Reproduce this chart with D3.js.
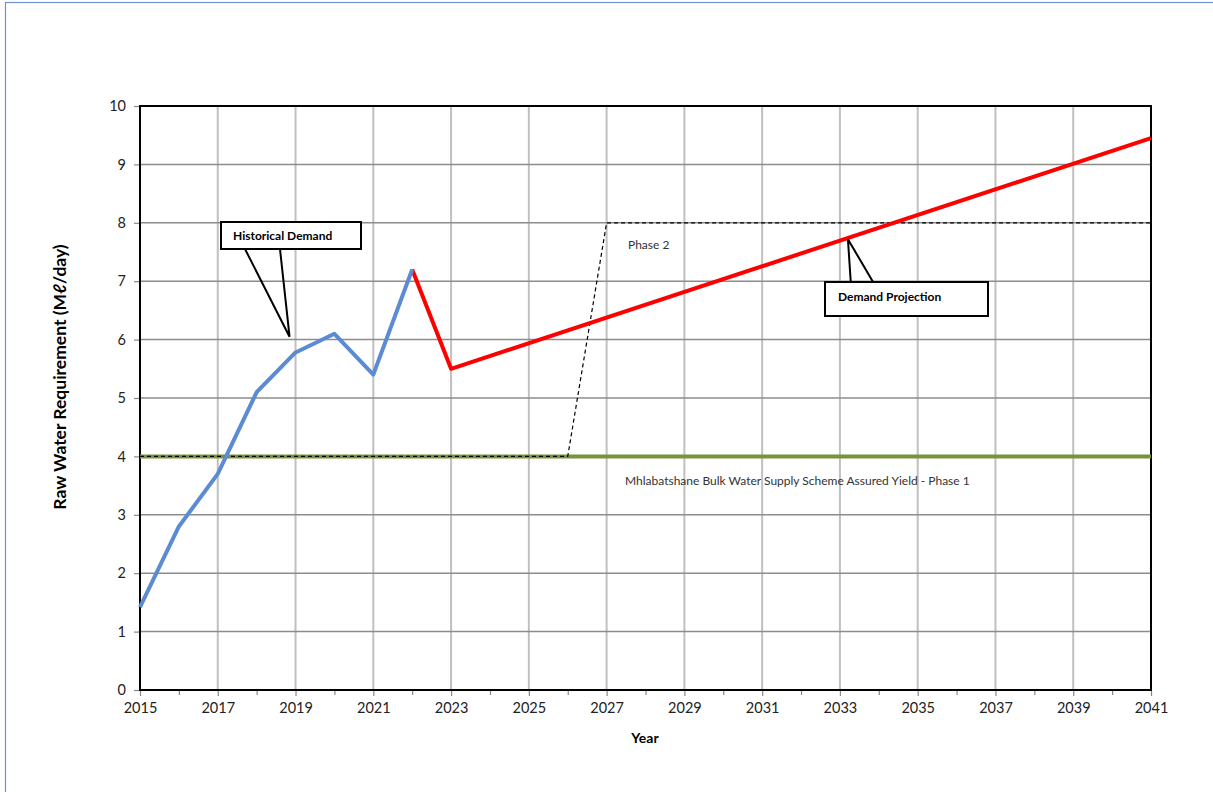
<!DOCTYPE html>
<html><head><meta charset="utf-8">
<script src="https://cdn.jsdelivr.net/npm/d3@7"></script>
<style>
html,body{margin:0;padding:0;background:#fff;}
svg{display:block;font-family:Lato,"Liberation Sans",sans-serif;}
</style></head>
<body><svg id="c" width="1213" height="792"></svg>
<script>
// Data
const histYears = [2015,2016,2017,2018,2019,2020,2021,2022];
const histValues = [1.42,2.8,3.7,5.1,5.78,6.1,5.4,7.2];
const projYears = [2022,2023,2041];
const projValues = [7.2,5.5,9.45];
const phase1Years = [2015,2041];
const phase1Values = [4,4];
const capacityYears = [2015,2026,2027,2041];
const capacityValues = [4,4,8,8];
const xTickYears = [2015,2017,2019,2021,2023,2025,2027,2029,2031,2033,2035,2037,2039,2041];
const xMinorYears = [2016,2018,2020,2022,2024,2026,2028,2030,2032,2034,2036,2038,2040];
const yTicks = [0,1,2,3,4,5,6,7,8,9,10];

const svg = d3.select("#c");
const m = {l:140, t:106, r:1151, b:690};
const x = d3.scaleLinear().domain([2015,2041]).range([m.l, m.r]);
const y = d3.scaleLinear().domain([0,10]).range([m.b, m.t]);

// outer frame
svg.append("rect").attr("x",5.5).attr("y",2.5).attr("width",1220).attr("height",800)
  .attr("fill","none").attr("stroke","#6f95cf").attr("stroke-width",1.2);

// grid
svg.append("g").selectAll("line").data(xTickYears.slice(1,-1)).join("line")
  .attr("x1",d=>x(d)).attr("x2",d=>x(d)).attr("y1",m.t).attr("y2",m.b)
  .attr("stroke","#c0c0c0").attr("stroke-width",2);
svg.append("g").selectAll("line").data(yTicks.slice(1,-1)).join("line")
  .attr("x1",m.l).attr("x2",m.r).attr("y1",d=>y(d)).attr("y2",d=>y(d))
  .attr("stroke","#8c8c8c").attr("stroke-width",1.5);

// axes
const fmt = d3.format("d");
const yAxis = svg.append("g").attr("transform",`translate(${m.l},0)`)
  .call(d3.axisLeft(y).tickValues(yTicks).tickSize(6).tickPadding(8).tickFormat(fmt));
const xAxis = svg.append("g").attr("transform",`translate(0,${m.b})`)
  .call(d3.axisBottom(x).tickValues(xTickYears).tickSize(6).tickPadding(7).tickFormat(fmt));
const xMinor = svg.append("g").attr("transform",`translate(0,${m.b})`)
  .call(d3.axisBottom(x).tickValues(xMinorYears).tickSize(5).tickFormat(""));
xMinor.select(".domain").remove();
[yAxis,xAxis,xMinor].forEach(g=>{
  g.selectAll(".tick line").attr("stroke","#888").attr("stroke-width",1.2);
  g.selectAll("text").attr("fill","#222").style("font-size","14.5px").style("font-family","Lato,'Liberation Sans',sans-serif");
  g.select(".domain").attr("stroke","none");
});

// plot box
svg.append("rect").attr("x",m.l).attr("y",m.t).attr("width",m.r-m.l).attr("height",m.b-m.t)
  .attr("fill","none").attr("stroke","#000").attr("stroke-width",2);

const line = d3.line().x(d=>x(d[0])).y(d=>y(d[1]));
const zip = (a,b)=>a.map((v,i)=>[v,b[i]]);

// phase 1 green
svg.append("path").datum(zip(phase1Years,phase1Values)).attr("d",line)
  .attr("fill","none").attr("stroke","#77933c").attr("stroke-width",4);
// capacity dashed
svg.append("path").datum(zip(capacityYears,capacityValues)).attr("d",line)
  .attr("fill","none").attr("stroke","#000").attr("stroke-width",1.2).attr("stroke-dasharray","4,3");
// projection red
svg.append("path").datum(zip(projYears,projValues)).attr("d",line)
  .attr("fill","none").attr("stroke","#ff0000").attr("stroke-width",4).attr("stroke-linejoin","round");
// history blue
svg.append("path").datum(zip(histYears,histValues)).attr("d",line)
  .attr("fill","none").attr("stroke","#5b8bd3").attr("stroke-width",4).attr("stroke-linejoin","round");

// labels
svg.append("text").attr("x",628).attr("y",249).attr("fill","#333").style("font-size","12px").text("Phase 2");
svg.append("text").attr("x",625).attr("y",485).attr("fill","#333").style("font-size","12px")
  .text("Mhlabatshane Bulk Water Supply Scheme Assured Yield - Phase 1");

// callouts
function callout(bx,by,bw,bh,p1,p2,tip,label,tx,ty){
  const g = svg.append("g");
  g.append("path").attr("d",`M${p1},${by+bh} L${tip[0]},${tip[1]} L${p2},${by+bh}`)
    .attr("fill","none").attr("stroke","#000").attr("stroke-width",2);
  g.append("rect").attr("x",bx).attr("y",by).attr("width",bw).attr("height",bh)
    .attr("fill","#fff").attr("stroke","#000").attr("stroke-width",2);
  g.append("text").attr("x",tx).attr("y",ty).attr("fill","#000").style("font-size","12px")
    .style("font-weight","bold").text(label);
}
callout(221,222,140,27,245,280,[x(2019)-6,y(6.05)],"Historical Demand",233,240);
callout(825,282,163,34,853,893,[x(2033)+8,y(7.72)],"Demand Projection",838,301);

// axis titles
svg.append("text").attr("transform","translate(66,377) rotate(-90)").attr("text-anchor","middle")
  .style("font-size","17.5px").style("font-weight","bold").attr("fill","#000").text("Raw Water Requirement (Mℓ/day)");
svg.append("text").attr("x",645).attr("y",743).attr("text-anchor","middle")
  .style("font-size","14px").style("font-weight","bold").attr("fill","#000").text("Year");
</script></body></html>
